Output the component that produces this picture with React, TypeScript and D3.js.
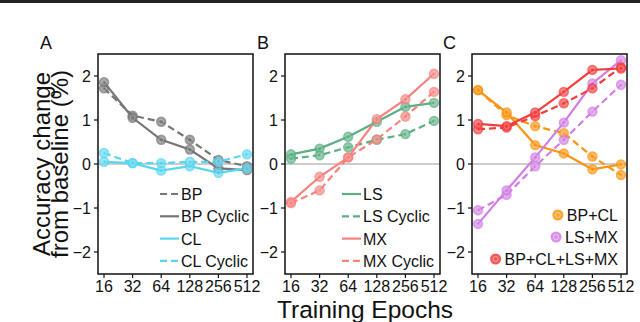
import React from "react";
import * as d3 from "d3";

const epochs = [16, 32, 64, 128, 256, 512];
const yTicks = [-2, -1, 0, 1, 2];

// Panel A
const bpDashed = [1.72, 1.1, 0.96, 0.55, 0.09, -0.05];
const bpSolid = [1.86, 1.05, 0.55, 0.33, -0.1, -0.14];
const clSolid = [0.05, 0.02, -0.15, -0.05, -0.2, -0.1];
const clDashed = [0.25, 0.02, 0.02, 0.05, 0.05, 0.22];
// Panel B
const lsSolid = [0.22, 0.35, 0.62, 0.96, 1.3, 1.39];
const lsDashed = [0.12, 0.2, 0.38, 0.55, 0.68, 0.98];
const mxSolid = [-0.86, -0.29, 0.15, 1.02, 1.47, 2.05];
const mxDashed = [-0.89, -0.6, 0.15, 0.56, 1.08, 1.64];
// Panel C
const bpclSolid = [1.68, 1.17, 0.43, 0.24, -0.12, -0.01];
const bpclDashed = [1.68, 1.11, 0.86, 0.7, 0.17, -0.25];
const lsmxSolid = [-1.36, -0.6, 0.15, 0.94, 1.83, 2.36];
const lsmxDashed = [-1.05, -0.7, -0.05, 0.55, 1.19, 1.8];
const allSolid = [0.91, 0.86, 1.17, 1.64, 2.14, 2.17];
const allDashed = [0.79, 0.83, 1.09, 1.38, 1.72, 2.2];

const GRAY = "#767676";
const CYAN = "#58d6f0";
const GREEN = "#5caf84";
const SALMON = "#f7827e";
const ORANGE = "#fa9412";
const VIOLET = "#d27de3";
const RED = "#f43c3c";

type Series = { values: number[]; color: string; dashed: boolean };

const panels: {
  label: string;
  labelX: number;
  left: number;
  legendX: number;
  series: Series[];
  legend: { text: string; color: string; dashed: boolean }[];
  legendType: "line" | "marker";
}[] = [
  {
    label: "A",
    labelX: 40,
    left: 98,
    legendX: 160,
    series: [
      { values: bpDashed, color: GRAY, dashed: true },
      { values: bpSolid, color: GRAY, dashed: false },
      { values: clSolid, color: CYAN, dashed: false },
      { values: clDashed, color: CYAN, dashed: true },
    ],
    legend: [
      { text: "BP", color: GRAY, dashed: true },
      { text: "BP Cyclic", color: GRAY, dashed: false },
      { text: "CL", color: CYAN, dashed: false },
      { text: "CL Cyclic", color: CYAN, dashed: true },
    ],
    legendType: "line",
  },
  {
    label: "B",
    labelX: 257,
    left: 285,
    legendX: 342,
    series: [
      { values: lsSolid, color: GREEN, dashed: false },
      { values: lsDashed, color: GREEN, dashed: true },
      { values: mxSolid, color: SALMON, dashed: false },
      { values: mxDashed, color: SALMON, dashed: true },
    ],
    legend: [
      { text: "LS", color: GREEN, dashed: false },
      { text: "LS Cyclic", color: GREEN, dashed: true },
      { text: "MX", color: SALMON, dashed: false },
      { text: "MX Cyclic", color: SALMON, dashed: true },
    ],
    legendType: "line",
  },
  {
    label: "C",
    labelX: 443,
    left: 472,
    legendX: 0,
    series: [
      { values: bpclDashed, color: ORANGE, dashed: true },
      { values: bpclSolid, color: ORANGE, dashed: false },
      { values: lsmxDashed, color: VIOLET, dashed: true },
      { values: lsmxSolid, color: VIOLET, dashed: false },
      { values: allDashed, color: RED, dashed: true },
      { values: allSolid, color: RED, dashed: false },
    ],
    legend: [
      { text: "BP+CL", color: ORANGE, dashed: false },
      { text: "LS+MX", color: VIOLET, dashed: false },
      { text: "BP+CL+LS+MX", color: RED, dashed: false },
    ],
    legendType: "marker",
  },
];

const W = 640;
const H = 322;
const PW = 155;
const TOP = 54;
const BOTTOM = 274;
const FONT = "'Liberation Sans', Arial, sans-serif";

function textWidth(s: string, size: number): number {
  if (typeof document === "undefined") return s.length * size * 0.55;
  const ctx = document.createElement("canvas").getContext("2d");
  if (!ctx) return s.length * size * 0.55;
  ctx.font = `${size}px ${FONT}`;
  return ctx.measureText(s).width;
}

export default function App() {
  const y = d3.scaleLinear().domain([-2.5, 2.5]).range([BOTTOM, TOP]);
  return (
    <svg
      width={W}
      height={H}
      style={{ position: "absolute", left: 0, top: 0, background: "#fff" }}
      fontFamily={FONT}
    >
      <rect x={0} y={0} width={W} height={3} fill="#222" />
      <text
        transform={`translate(50,164) rotate(-90)`}
        textAnchor="middle"
        fontSize={24}
        fill="#111"
      >
        Accuracy change
      </text>
      <text
        transform={`translate(67.5,164) rotate(-90)`}
        textAnchor="middle"
        fontSize={24}
        fill="#111"
      >
        from baseline (%)
      </text>
      <text x={365} y={318} textAnchor="middle" fontSize={24.5} fill="#111">
        Training Epochs
      </text>
      {panels.map((p) => {
        const x = d3
          .scaleLog()
          .base(2)
          .domain([16, 512])
          .range([p.left + 6, p.left + PW - 6]);
        const line = d3
          .line<number>()
          .x((_, i) => x(epochs[i]))
          .y((d) => y(d));
        const right = p.left + PW;
        return (
          <g key={p.label}>
            <text x={p.labelX} y={49} fontSize={18} fill="#111">
              {p.label}
            </text>
            <line
              x1={p.left}
              x2={right}
              y1={y(0)}
              y2={y(0)}
              stroke="#999"
              strokeWidth={1}
            />
            {p.series.map((s, i) => (
              <path
                key={"l" + i}
                d={line(s.values) || ""}
                fill="none"
                stroke={s.color}
                strokeWidth={2.2}
                strokeDasharray={s.dashed ? "7,4" : undefined}
              />
            ))}
            {p.series.map((s, i) => (
              <g key={"m" + i}>
                {s.values.map((v, j) => (
                  <g key={j}>
                    <circle
                      cx={x(epochs[j])}
                      cy={y(v)}
                      r={5.2}
                      fill={s.color}
                      fillOpacity={0.75}
                    />
                    <circle
                      cx={x(epochs[j])}
                      cy={y(v)}
                      r={2.5}
                      fill="none"
                      stroke="#fff"
                      strokeOpacity={0.35}
                      strokeWidth={0.8}
                    />
                  </g>
                ))}
              </g>
            ))}
            <rect
              x={p.left}
              y={TOP}
              width={PW}
              height={BOTTOM - TOP}
              fill="none"
              stroke="#111"
              strokeWidth={1.5}
            />
            {yTicks.map((t) => (
              <g key={"y" + t}>
                <line
                  x1={p.left - 4}
                  x2={p.left}
                  y1={y(t)}
                  y2={y(t)}
                  stroke="#111"
                  strokeWidth={1.2}
                />
                <text
                  x={p.left - 7}
                  y={y(t) + 5.5}
                  textAnchor="end"
                  fontSize={16}
                  fill="#111"
                >
                  {t < 0 ? "\u2212" + Math.abs(t) : String(t)}
                </text>
              </g>
            ))}
            {epochs.map((e) => (
              <g key={"x" + e}>
                <line
                  x1={x(e)}
                  x2={x(e)}
                  y1={BOTTOM}
                  y2={BOTTOM + 4}
                  stroke="#111"
                  strokeWidth={1.2}
                />
                <text
                  x={x(e)}
                  y={BOTTOM + 18}
                  textAnchor="middle"
                  fontSize={16}
                  fill="#111"
                >
                  {e}
                </text>
              </g>
            ))}
            {p.legendType === "line"
              ? p.legend.map((l, i) => {
                  const ly = 194 + i * 22.3;
                  const lx = p.legendX;
                  return (
                    <g key={"lg" + i}>
                      <line
                        x1={lx}
                        x2={lx + 19}
                        y1={ly}
                        y2={ly}
                        stroke={l.color}
                        strokeWidth={2.2}
                        strokeDasharray={l.dashed ? "7,4" : undefined}
                      />
                      <text x={lx + 21} y={ly + 6} fontSize={16} fill="#111">
                        {l.text}
                      </text>
                    </g>
                  );
                })
              : p.legend.map((l, i) => {
                  const ly = 215 + i * 22;
                  const tx = right - 9;
                  const cx = tx - textWidth(l.text, 16) - 9;
                  return (
                    <g key={"lg" + i}>
                      <circle cx={cx} cy={ly} r={5.5} fill={l.color} fillOpacity={0.85} />
                      <circle
                        cx={cx}
                        cy={ly}
                        r={2.6}
                        fill="none"
                        stroke="#fff"
                        strokeOpacity={0.45}
                        strokeWidth={1}
                      />
                      <text
                        x={tx}
                        y={ly + 6}
                        fontSize={16}
                        textAnchor="end"
                        fill="#111"
                      >
                        {l.text}
                      </text>
                    </g>
                  );
                })}
          </g>
        );
      })}
    </svg>
  );
}
